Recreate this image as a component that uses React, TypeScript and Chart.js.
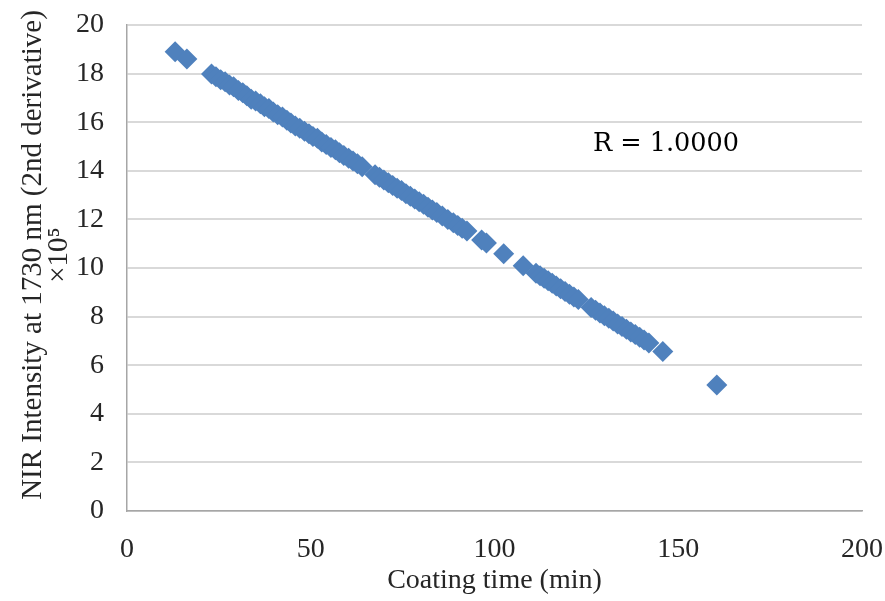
import React, { useEffect, useRef } from "react";
import { Chart, registerables } from "chart.js";

Chart.register(...registerables);

// Coating time (min) of each measurement
const coatingTime: number[] = [
  13.1, 16.3,
  23.0, 24.2, 25.5, 26.7, 27.9, 29.0, 30.3, 31.5, 32.6, 33.8, 35.0, 36.3, 37.4, 38.6, 39.8,
  41.0, 42.3, 43.5, 44.6, 45.8, 47.0, 48.3, 49.5, 50.6, 51.8, 53.0, 54.2, 55.5, 56.7, 57.8,
  59.0, 60.3, 61.5, 62.7, 64.0,
  67.5, 68.7, 69.9, 71.1, 72.3, 73.5, 74.7, 75.9, 77.1, 78.3, 79.5, 80.7, 81.9, 83.1, 84.3,
  85.8, 87.3, 88.8, 90.0, 91.2, 92.5,
  96.5, 97.8, 102.5, 107.8,
  111.3, 112.4, 113.5, 114.6, 115.7, 116.8, 118.0, 119.2, 120.4, 121.6, 122.8,
  126.3, 127.5, 128.7, 129.9, 131.1, 132.3, 133.5, 134.7, 135.9, 137.1, 138.3, 139.5, 140.7, 142.0,
  145.8, 160.5,
];

// NIR intensity at 1730 nm (2nd derivative), in units of 10^5
const nirIntensity: number[] = [
  18.90, 18.60,
  17.98, 17.87, 17.75, 17.66, 17.53, 17.46, 17.30, 17.21, 17.09, 16.94, 16.87, 16.76, 16.64, 16.56, 16.42,
  16.31, 16.21, 16.08, 15.97, 15.84, 15.75, 15.63, 15.52, 15.41, 15.34, 15.19, 15.08, 14.96, 14.87, 14.74,
  14.63, 14.52, 14.40, 14.29, 14.17,
  13.84, 13.73, 13.62, 13.51, 13.40, 13.28, 13.19, 13.06, 12.95, 12.84, 12.73, 12.62, 12.50, 12.39, 12.28,
  12.14, 12.00, 11.86, 11.75, 11.64, 11.52,
  11.15, 11.03, 10.59, 10.09,
  9.78, 9.68, 9.58, 9.48, 9.37, 9.26, 9.15, 9.03, 8.92, 8.81, 8.70,
  8.37, 8.26, 8.15, 8.04, 7.93, 7.82, 7.70, 7.59, 7.48, 7.37, 7.26, 7.15, 7.04, 6.91,
  6.56, 5.19,
];

const yTickValues: number[] = [0, 2, 4, 6, 8, 10, 12, 14, 16, 18, 20];
const xTickValues: number[] = [0, 50, 100, 150, 200];

const xTitle = "Coating time (min)";
const yTitle: string[] = ["NIR Intensity at 1730 nm (2nd derivative)", "×10\u2075"];
const correlationLabel = "R = 1.0000";
// anchor of the correlation label, in data units
const correlationAt: number[] = [126.8, 15.1];

const SERIF = "'Liberation Serif', 'Times New Roman', serif";
const TEXT = "#262626";
const MARKER = "#4F81BD";
const FONT_SIZE = 28;

const correlationPlugin = {
  id: "correlationLabel",
  afterDatasetsDraw(chart: any) {
    const { ctx, scales } = chart;
    const px = scales.x.getPixelForValue(correlationAt[0]);
    const py = scales.y.getPixelForValue(correlationAt[1]);
    ctx.save();
    ctx.font = "25.5px 'DejaVu Serif', serif";
    ctx.fillStyle = "#000";
    ctx.textAlign = "left";
    ctx.textBaseline = "middle";
    ctx.fillText(correlationLabel, px, py);
    ctx.restore();
  },
};

// Two-line rotated title of the value axis, drawn left of the tick labels
const yTitlePlugin = {
  id: "yAxisTitle",
  afterDraw(chart: any) {
    const { ctx, chartArea } = chart;
    const cy = (chartArea.top + chartArea.bottom) / 2 - 13;
    ctx.save();
    ctx.font = `29px ${SERIF}`;
    ctx.fillStyle = TEXT;
    ctx.textAlign = "center";
    ctx.textBaseline = "middle";
    yTitle.forEach((line, i) => {
      ctx.save();
      ctx.translate(33 + i * 26, cy);
      ctx.rotate(-Math.PI / 2);
      ctx.fillText(line, 0, 0);
      ctx.restore();
    });
    ctx.restore();
  },
};

export default function App() {
  const canvasRef = useRef<HTMLCanvasElement | null>(null);

  useEffect(() => {
    if (!canvasRef.current) return;
    const points = coatingTime.map((t, i) => ({ x: t, y: nirIntensity[i] }));
    const chart = new Chart(canvasRef.current, {
      type: "scatter",
      data: {
        datasets: [
          {
            data: points,
            pointStyle: "rectRot",
            pointRadius: 10.5,
            pointHoverRadius: 10.5,
            backgroundColor: MARKER,
            borderColor: MARKER,
            borderWidth: 0,
          },
        ],
      },
      options: {
        animation: false,
        responsive: false,
        events: [],
        layout: { padding: { top: 25, right: 23, left: 0, bottom: 0 } },
        plugins: {
          legend: { display: false },
          tooltip: { enabled: false },
        },
        scales: {
          x: {
            type: "linear",
            min: 0,
            max: 200,
            afterBuildTicks: (s: any) => {
              s.ticks = xTickValues.map((v) => ({ value: v }));
            },
            afterFit: (s: any) => {
              s.height = 90;
              s.paddingLeft = 0;
              s.paddingRight = 0;
            },
            grid: { display: false, drawTicks: false },
            border: { display: true, color: "#A6A6A6", width: 1.5 },
            ticks: {
              color: TEXT,
              padding: 22,
              maxRotation: 0,
              font: { family: SERIF, size: FONT_SIZE },
            },
            title: {
              display: true,
              text: xTitle,
              color: TEXT,
              font: { family: SERIF, size: FONT_SIZE, lineHeight: 1 },
              padding: { top: 0, bottom: 6 },
            },
          },
          y: {
            type: "linear",
            min: 0,
            max: 20,
            afterBuildTicks: (s: any) => {
              s.ticks = yTickValues.map((v) => ({ value: v }));
            },
            afterFit: (s: any) => {
              s.width = 127;
              s.paddingTop = 0;
              s.paddingBottom = 0;
            },
            grid: { display: true, drawTicks: false, color: "#D9D9D9", lineWidth: 2 },
            border: { display: true, color: "#A6A6A6", width: 1.5 },
            ticks: {
              color: TEXT,
              padding: 23,
              font: { family: SERIF, size: FONT_SIZE },
            },
            title: { display: false },
          },
        },
      },
      plugins: [correlationPlugin, yTitlePlugin],
    });
    return () => chart.destroy();
  }, []);

  return (
    <div style={{ position: "absolute", left: 0, top: 0, width: 885, height: 601, background: "#fff" }}>
      <canvas ref={canvasRef} width={885} height={601} />
    </div>
  );
}
